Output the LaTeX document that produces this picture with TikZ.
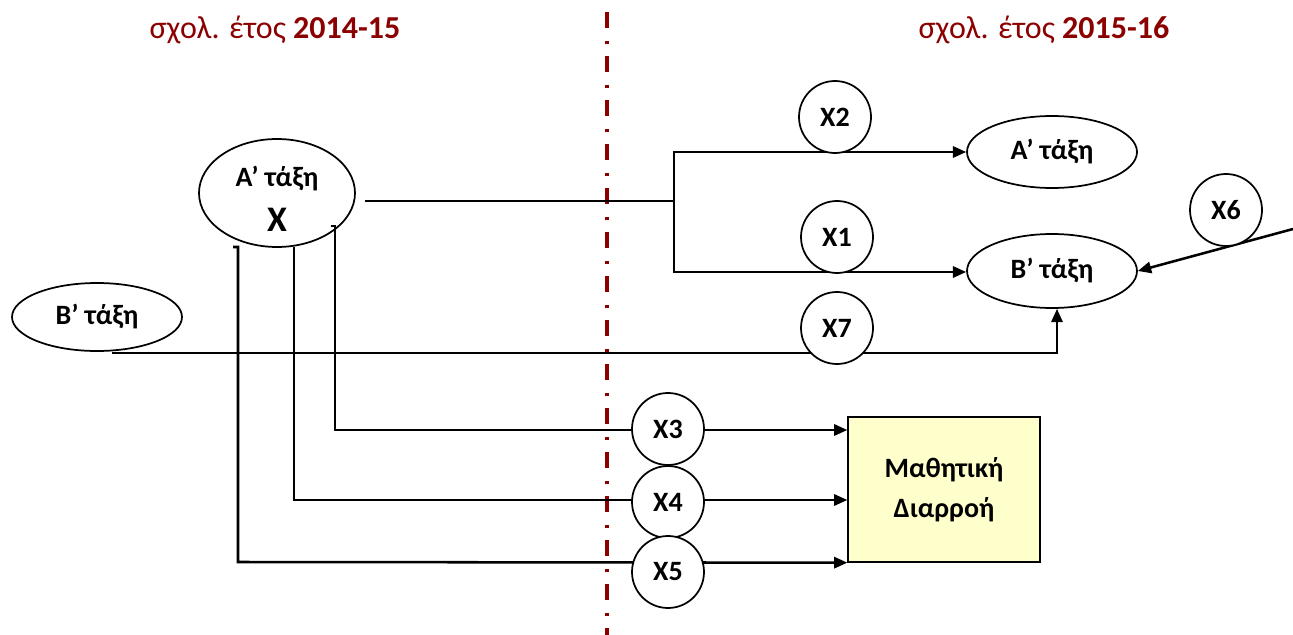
\documentclass[tikz,border=0pt]{standalone}
\usepackage{fontspec}
\setmainfont{Carlito}
\usetikzlibrary{arrows.meta,shapes.geometric,calc}
\definecolor{dred}{RGB}{139,0,0}
\definecolor{boxy}{RGB}{255,255,204}
\pgfdeclarelayer{bg}
\pgfsetlayers{bg,main}
\begin{document}
\begin{tikzpicture}[x=0.75pt,y=-0.75pt,
  conn/.style={line width=1.9pt},
  arr/.style={conn,-{Triangle[length=10pt,width=8.5pt]}},
  lbl/.style={font=\bfseries\fontsize{21}{25}\selectfont},
  oval/.style={draw,line width=1.3pt,ellipse,inner sep=0pt,lbl},
  var/.style={draw,circle,fill=white,line width=1.3pt,minimum size=54pt,inner sep=0pt,lbl},
  yeartitle/.style={text=dred,font=\fontsize{24}{28}\selectfont},
  divider/.style={dred,line width=3pt,dash pattern=on 12pt off 9.75pt on 2.25pt off 9pt}]
\useasboundingbox (0,0) rectangle (1293,635);

% titles
\node[yeartitle] (t1) at (275,30) {σχολ. έτος \textbf{2014-15}};
\node[yeartitle] (t2) at (1044,30) {σχολ. έτος \textbf{2015-16}};

% divider
\coordinate (d1) at (607,12);
\coordinate (d2) at (607,635);

% class nodes
\node[oval,minimum width=117pt,minimum height=81pt] (Al) at (277,193) {};
\node[lbl,align=center,inner sep=0pt] (Altext) at (277,199)
  {A’ τάξη\\[9pt]{\fontsize{27}{28}\selectfont X}};
\node[oval,minimum width=127.5pt,minimum height=51pt] (Bl) at (97,317) {B’ τάξη};
\node[oval,minimum width=127.5pt,minimum height=54pt] (Ar) at (1052,152) {A’ τάξη};
\node[oval,minimum width=127.5pt,minimum height=55.5pt] (Br) at (1052,271) {B’ τάξη};

% outcome box
\node[draw,fill=boxy,line width=1pt,minimum width=144pt,minimum height=108.75pt,
  align=center,lbl] (box) at (944,489.5) {Μαθητική\\[5pt]Διαρροή};

% variable circles
\node[var] (x2) at (835,117) {X2};
\node[var] (x1) at (837,237) {X1};
\node[var] (x7) at (837,328) {X7};
\node[var] (x6) at (1226,210) {X6};
\node[var] (x3) at (668,429) {X3};
\node[var] (x4) at (668,502) {X4};
\node[var] (x5) at (668,572) {X5};

% helper coordinates
\coordinate (s1) at (365,201);
\coordinate (j1) at (674,201);
\coordinate (bs) at (112,353);
\coordinate (bk) at (1057,353);
\coordinate (h3) at (331,226);
\coordinate (v3) at (335,226);
\coordinate (h4) at (294,247);
\coordinate (h5) at (233,247);
\coordinate (v5) at (238,247);
\coordinate (e6) at (1293,229);

\begin{pgfonlayer}{bg}
  \draw[divider] (d1) -- (d2);
  % A' -> A', B'
  \draw[conn] (s1) -- (j1);
  \draw[arr] (j1) |- (Ar.west);
  \draw[arr] (j1) |- (674,272) -- (Br.west |- 0,272);
  % B' -> B'
  \draw[arr] (bs) -- (bk) -- (bk |- Br.south);
  % X6 -> B'
  \draw[arr] (e6) -- (Br.east);
  % dropout paths
  \draw[arr] (h3) -- (v3) -- (335,430) -- (box.west |- 0,430);
  \draw[arr] (h4) -- (294,500) -- (box.west |- 0,500);
  \draw[arr] (h5) -- (v5) -- (238,562) -- (box.south west);
\end{pgfonlayer}
\end{tikzpicture}
\end{document}
